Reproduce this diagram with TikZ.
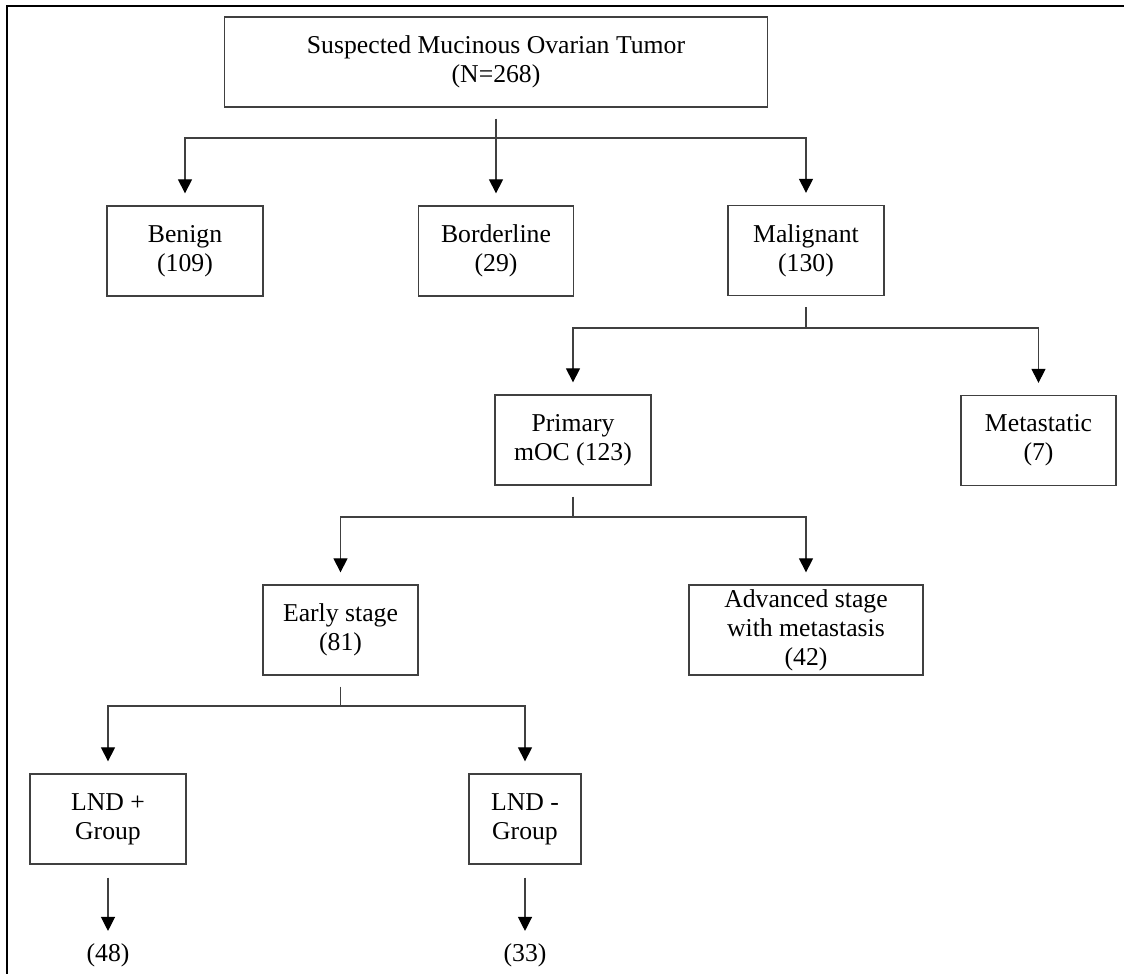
\documentclass[tikz,border=0pt]{standalone}
\usepackage{fontspec}
\setmainfont{Liberation Serif}
\usetikzlibrary{arrows.meta}

\begin{document}
\begin{tikzpicture}[x=0.5pt,y=-0.5pt,
    box/.style={draw=black!75,line width=0.65pt,minimum height=45pt,inner sep=0pt,align=center,
      font=\fontsize{12.85}{14.5}\selectfont},
    count/.style={inner sep=0pt,font=\fontsize{12.85}{14.5}\selectfont},
    wire/.style={draw=black!75,line width=0.6pt},
    stub/.style={wire,shorten <=5.5pt},
    arr/.style={wire,-{Triangle[length=7pt,width=7pt,color=black]},shorten >=6pt}]
      \useasboundingbox (0,0) rectangle (1124,974);
      \draw[line width=1.2pt] (7,974) -- (7,6) -- (1124,6);

      \node[box,minimum width=271.5pt] (tumor) at (496,62) {Suspected Mucinous Ovarian Tumor\\(N=268)};
      \node[box,minimum width=78pt] (benign) at (185,251) {Benign\\(109)};
      \node[box,minimum width=77.5pt] (border) at (496,251) {Borderline\\(29)};
      \node[box,minimum width=78pt] (malig) at (806,250.5) {Malignant\\(130)};
      \node[box,minimum width=78pt] (primary) at (573,440) {Primary\\mOC (123)};
      \node[box,minimum width=77.5pt] (meta) at (1038.5,440.5) {Metastatic\\(7)};
      \node[box,minimum width=77.5pt] (early) at (340.5,630) {Early stage\\(81)};
      \node[box,minimum width=117pt] (adv) at (806,630) {Advanced stage\\with metastasis\\(42)};
      \node[box,minimum width=78pt] (lndp) at (108,819) {LND +\\Group};
      \node[box,minimum width=56pt] (lndm) at (525,819) {LND -\\Group};
      \node[count] (n48) at (108,955) {(48)};
      \node[count] (n33) at (525,955) {(33)};

      \coordinate (j1) at (496,138);
      \coordinate (j2) at (806,328);
      \coordinate (j3) at (573,517);
      \coordinate (j4) at (340.5,706);

      \draw[stub] (tumor.south) -- (j1);
      \draw[arr] (j1) -| (benign);
      \draw[arr] (j1) -- (border);
      \draw[arr] (j1) -| (malig);

      \draw[stub] (malig.south) -- (j2);
      \draw[arr] (j2) -| (primary);
      \draw[arr] (j2) -| (meta);

      \draw[stub] (primary.south) -- (j3);
      \draw[arr] (j3) -| (early);
      \draw[arr] (j3) -| (adv);

      \draw[stub] (early.south) -- (j4);
      \draw[arr] (j4) -| (lndp);
      \draw[arr] (j4) -| (lndm);

      \draw[arr,shorten <=6.5pt] (lndp) -- (n48);
      \draw[arr,shorten <=6.5pt] (lndm) -- (n33);
    \end{tikzpicture}
\end{document}
